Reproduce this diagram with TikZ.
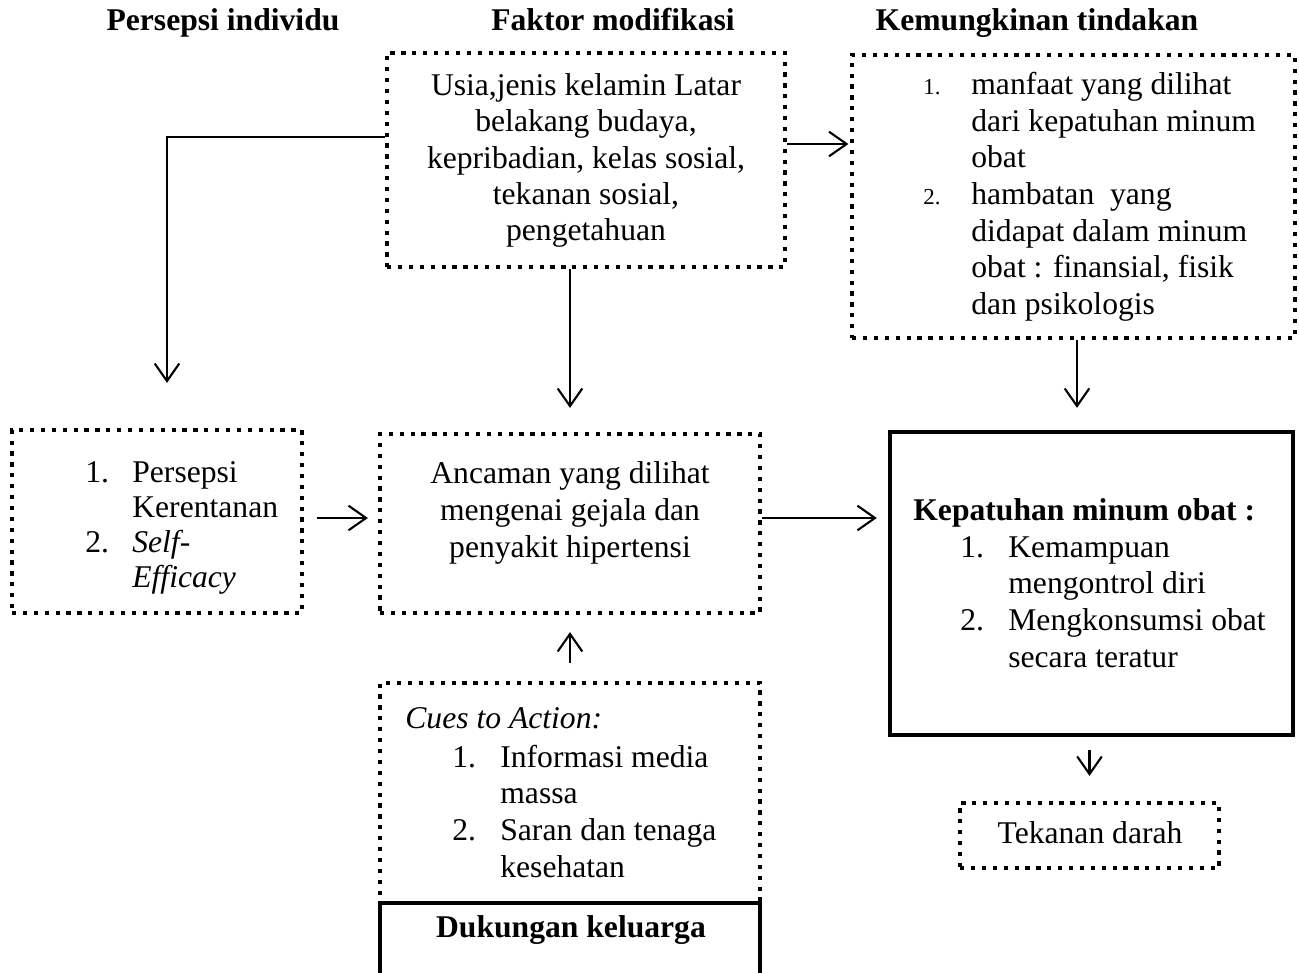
\documentclass[tikz,border=0pt]{standalone}
\usepackage{fontspec}
\setmainfont{Liberation Serif}
\usetikzlibrary{arrows.meta,calc}
\begin{document}
\begin{tikzpicture}[x=0.02cm,y=-0.02cm,
  dotbox/.style={draw, line width=2.4pt, dash pattern=on 2.4pt off 3.8pt, inner sep=0pt},
  solidbox/.style={draw, line width=2.5pt, inner sep=0pt},
  txt/.style={anchor=base west, inner sep=0pt, font=\fontsize{18}{21}\selectfont},
  ctxt/.style={anchor=base, inner sep=0pt, font=\fontsize{18}{21}\selectfont},
  head/.style={anchor=base, inner sep=0pt, font=\fontsize{18}{21}\selectfont\bfseries},
  smallnum/.style={anchor=base west, inner sep=0pt, font=\fontsize{13}{15}\selectfont},
  arr/.style={line width=1.2pt, -{Straight Barb[length=10pt,width=14pt,line width=1.2pt]}}]
\clip (0,0) rectangle (1299,973);
\fill[white] (0,0) rectangle (1299,973);

% headings
\node[head] (h1) at (223,31) {Persepsi individu};
\node[head] (h2) at (613,31) {Faktor modifikasi};
\node[head] (h3) at (1037,31) {Kemungkinan tindakan};

% boxes
\node[dotbox, minimum width=5.8cm, minimum height=3.66cm] (A) at (157,521.5) {};
\node[dotbox, minimum width=7.96cm, minimum height=4.28cm] (B) at (586,160) {};
\node[dotbox, minimum width=8.86cm, minimum height=5.66cm] (C) at (1073.5,196.5) {};
\node[dotbox, minimum width=7.6cm, minimum height=3.58cm] (D) at (570,523.5) {};
\node[solidbox, minimum width=8.06cm, minimum height=6.06cm] (E) at (1091.5,583.5) {};
\node[dotbox, minimum width=7.6cm, minimum height=4.4cm] (F) at (570,793) {};
\node[solidbox, minimum width=7.6cm, minimum height=1.74cm] (G) at (570,946.5) {};
\node[dotbox, minimum width=5.18cm, minimum height=1.3cm] (H) at (1089.5,835.5) {};

% box A text
\node[txt] (a1n) at (85,482) {1.};
\node[txt] (a1) at (132,482) {Persepsi};
\node[txt] (a1b) at (132,517) {Kerentanan};
\node[txt] (a2n) at (85,552) {2.};
\node[txt] (a2) at (132,552) {\itshape Self-};
\node[txt] (a2b) at (132,587) {\itshape Efficacy};

% box B text
\node[ctxt] (b1) at (586,96) {Usia,jenis kelamin Latar};
\node[ctxt] (b2) at (586,132) {belakang budaya,};
\node[ctxt] (b3) at (586,169) {kepribadian, kelas sosial,};
\node[ctxt] (b4) at (586,205) {tekanan sosial,};
\node[ctxt] (b5) at (586,241) {pengetahuan};

% box C text
\node[smallnum] (c1n) at (923,95) {1.};
\node[txt] (c1) at (971,95) {manfaat yang dilihat};
\node[txt] (c1b) at (971,132) {dari kepatuhan minum};
\node[txt] (c1c) at (971,168) {obat};
\node[smallnum] (c2n) at (923,205) {2.};
\node[txt] (c2) at (971,205) {hambatan\ \ yang};
\node[txt] (c2b) at (971,242) {didapat dalam minum};
\node[txt] (c2c) at (971,278) {obat : finansial, fisik};
\node[txt] (c2d) at (971,315) {dan psikologis};

% box D text
\node[ctxt] (d1) at (570,483) {Ancaman yang dilihat};
\node[ctxt] (d2) at (570,520) {mengenai gejala dan};
\node[ctxt] (d3) at (570,557) {penyakit hipertensi};

% box E text
\node[txt, font=\fontsize{18}{21}\selectfont\bfseries] (e0) at (913,520) {Kepatuhan minum obat :};
\node[txt] (e1n) at (960,557) {1.};
\node[txt] (e1) at (1008,557) {Kemampuan};
\node[txt] (e1b) at (1008,593) {mengontrol diri};
\node[txt] (e2n) at (960,630) {2.};
\node[txt] (e2) at (1008,630) {Mengkonsumsi obat};
\node[txt] (e2b) at (1008,667) {secara teratur};

% box F text
\node[txt] (f0) at (405,728) {\itshape Cues to Action:};
\node[txt] (f1n) at (452,767) {1.};
\node[txt] (f1) at (500,767) {Informasi media};
\node[txt] (f1b) at (500,803) {massa};
\node[txt] (f2n) at (452,840) {2.};
\node[txt] (f2) at (500,840) {Saran dan tenaga};
\node[txt] (f2b) at (500,877) {kesehatan};

% box G, H text
\node[head] (g1) at (571,937) {Dukungan keluarga};
\node[ctxt] (h1t) at (1090,843) {Tekanan darah};

% connectors
\draw[arr] ([yshift=0.46cm]B.west) -| ([xshift=0.2cm,yshift=0.9cm]A.north);
\draw[arr] (B.south -| D.north) -- ([yshift=0.48cm]D.north);
\draw[arr] ([yshift=0.32cm]B.east) -- ([yshift=0.32cm,xshift=-0.03cm]B.east -| C.west);
\draw[arr] ([xshift=0.07cm]C.south) -- ([xshift=0.07cm,yshift=0.44cm]C.south |- E.north);
\draw[arr] ([xshift=0.26cm,yshift=0.07cm]A.east) -- ([xshift=-0.2cm,yshift=0.07cm]A.east -| D.west);
\draw[arr] ([yshift=0.11cm]D.east) -- ([xshift=-0.22cm,yshift=0.11cm]D.east -| E.west);
\draw[arr] ([yshift=0.36cm]F.north) -- ([yshift=-0.34cm]D.south);
\draw[arr] ([yshift=-0.26cm]E.south -| H.north) -- ([yshift=0.5cm]H.north);
\end{tikzpicture}
\end{document}
